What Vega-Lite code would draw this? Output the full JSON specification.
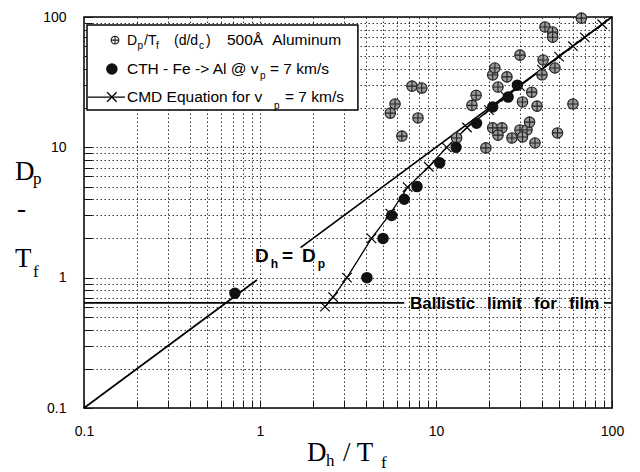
{
  "$schema": "https://vega.github.io/schema/vega-lite/v6.json",
  "width": 528,
  "height": 391,
  "autosize": "none",
  "padding": {"left": 84, "top": 17, "right": 28, "bottom": 64},
  "background": "white",
  "config": {
    "view": {"stroke": "black", "strokeWidth": 1.5},
    "axis": {
      "labelFont": "Liberation Sans",
      "labelFontSize": 14,
      "labelColor": "black",
      "domain": false,
      "grid": true,
      "gridColor": "#333",
      "gridDash": [1.5, 2.5],
      "gridWidth": 1,
      "gridOpacity": 1,
      "tickColor": "#111",
      "tickSize": -8,
      "tickWidth": 1
    }
  },
  "datasets": {
    "exp": [
      {"x": 5.5, "y": 18.3}, {"x": 5.85, "y": 21.5}, {"x": 6.4, "y": 12.2}, {"x": 7.3, "y": 29.5},
      {"x": 8.3, "y": 28.5}, {"x": 7.9, "y": 16.8}, {"x": 13.1, "y": 11.8}, {"x": 16, "y": 21},
      {"x": 16.9, "y": 25.1}, {"x": 19.2, "y": 9.9}, {"x": 21, "y": 14.1}, {"x": 23.7, "y": 14.1},
      {"x": 22.5, "y": 12.4}, {"x": 27, "y": 11.8}, {"x": 30, "y": 13.6}, {"x": 32.9, "y": 13.6},
      {"x": 34, "y": 15.6}, {"x": 31, "y": 12}, {"x": 36.5, "y": 10.8}, {"x": 49, "y": 12.9},
      {"x": 60, "y": 21.5}, {"x": 37.5, "y": 20.7}, {"x": 31, "y": 22.3}, {"x": 35, "y": 26.5},
      {"x": 22.5, "y": 29}, {"x": 25.3, "y": 34.7}, {"x": 21, "y": 35.9}, {"x": 21.6, "y": 40.6},
      {"x": 30, "y": 51}, {"x": 41.6, "y": 83.8}, {"x": 46, "y": 76.7}, {"x": 46, "y": 70},
      {"x": 67, "y": 98}, {"x": 40.6, "y": 46.8}, {"x": 47.4, "y": 40.6}, {"x": 40, "y": 36}
    ],
    "cth": [
      {"x": 0.72, "y": 0.76}, {"x": 4.05, "y": 1.0}, {"x": 5, "y": 2}, {"x": 5.6, "y": 3},
      {"x": 6.6, "y": 4}, {"x": 7.8, "y": 5}, {"x": 10.5, "y": 7.6}, {"x": 13, "y": 10},
      {"x": 17, "y": 15.3}, {"x": 21, "y": 20.4}, {"x": 25.7, "y": 24.3}, {"x": 29, "y": 30}
    ],
    "cmd": [
      {"x": 2.34, "y": 0.6}, {"x": 2.6, "y": 0.71}, {"x": 3.12, "y": 1.0}, {"x": 4.3, "y": 2.0},
      {"x": 5.5, "y": 3.1}, {"x": 6.9, "y": 4.95}, {"x": 9.1, "y": 7.1}, {"x": 11.5, "y": 10},
      {"x": 15, "y": 14.2}, {"x": 20, "y": 19.3}, {"x": 25, "y": 24.4}, {"x": 30, "y": 29.5},
      {"x": 40, "y": 39.5}, {"x": 50, "y": 49.6}, {"x": 60, "y": 59.7}, {"x": 70, "y": 69.8},
      {"x": 88, "y": 88}
    ],
    "lines": [
      {"seg": "id1", "x": 0.1, "y": 0.1}, {"seg": "id1", "x": 0.96, "y": 0.96},
      {"seg": "id2", "x": 1.7, "y": 1.7}, {"seg": "id2", "x": 100, "y": 100},
      {"seg": "b1", "x": 0.1, "y": 0.64}, {"seg": "b1", "x": 6.6, "y": 0.64},
      {"seg": "b2", "x": 90, "y": 0.64}, {"seg": "b2", "x": 100, "y": 0.64}
    ],
    "legendBox": [{"x": 0.104, "x2": 3.6, "y": 19.3, "y2": 86.9}],
    "legendLine": [{"x": 0.1054, "y": 24.3}, {"x": 0.171, "y": 24.3}],
    "legendX": [{"x": 0.144, "y": 24.3}],
    "legendOpen": [{"x": 0.15, "y": 66.5}],
    "legendFilled": [{"x": 0.144, "y": 39.9}],
    "legendSmall": [
      {"x": 0.1754, "y": 60.9, "t": "D"},
      {"x": 0.2193, "y": 60.9, "t": "/T"},
      {"x": 0.3245, "y": 60.9, "t": "(d/d"},
      {"x": 0.493, "y": 60.9, "t": ")"}
    ],
    "legendMain": [
      {"x": 0.6494, "y": 60.9, "t": "500Å"},
      {"x": 1.172, "y": 60.9, "t": "Aluminum"},
      {"x": 0.1754, "y": 36.5, "t": "CTH -  Fe -> Al @ v"},
      {"x": 1.14, "y": 36.5, "t": "=  7  km/s"},
      {"x": 0.1754, "y": 22.3, "t": "CMD Equation for v"},
      {"x": 1.387, "y": 22.3, "t": "=  7  km/s"}
    ],
    "legendSub": [
      {"x": 0.2013, "y": 56.7, "t": "p"},
      {"x": 0.2565, "y": 56.7, "t": "f"},
      {"x": 0.45, "y": 56.7, "t": "c"},
      {"x": 1.0, "y": 33.6, "t": "p"},
      {"x": 1.2, "y": 19.6, "t": "p"}
    ],
    "boldMain": [
      {"x": 0.937, "y": 1.317, "t": "D"},
      {"x": 1.334, "y": 1.317, "t": "="},
      {"x": 1.733, "y": 1.317, "t": "D"}
    ],
    "boldSub": [
      {"x": 1.15, "y": 1.185, "t": "h"},
      {"x": 2.13, "y": 1.185, "t": "p"}
    ],
    "ballistic": [
      {"x": 7.11, "y": 0.574, "t": "Ballistic"},
      {"x": 19.5, "y": 0.574, "t": "limit"},
      {"x": 36.1, "y": 0.574, "t": "for"},
      {"x": 57.0, "y": 0.574, "t": "film"}
    ],
    "serifMain": [
      {"x": 0.0405, "y": 5.61, "t": "D"},
      {"x": 0.0416, "y": 2.92, "t": "-"},
      {"x": 0.0405, "y": 1.205, "t": "T"},
      {"x": 1.85, "y": 0.0395, "t": "D"},
      {"x": 2.96, "y": 0.0395, "t": "/ T"}
    ],
    "serifSub": [
      {"x": 0.0513, "y": 5.23, "t": "p"},
      {"x": 0.0513, "y": 1.01, "t": "f"},
      {"x": 2.37, "y": 0.0357, "t": "h"},
      {"x": 4.87, "y": 0.0347, "t": "f"}
    ]
  },
  "encoding": {
    "x": {
      "field": "x", "type": "quantitative", "title": null,
      "scale": {"type": "log", "domain": [0.1, 100], "nice": false},
      "axis": {
        "values": [0.1,0.2,0.3,0.4,0.5,0.6,0.7,0.8,0.9,1,2,3,4,5,6,7,8,9,10,20,30,40,50,60,70,80,90,100],
        "labelExpr": "indexof([0.1,1,10,100], datum.value) >= 0 ? format(datum.value, '~g') : ''",
        "labelPadding": 24,
        "labelFlush": false,
        "labelOverlap": false
      }
    },
    "y": {
      "field": "y", "type": "quantitative", "title": null,
      "scale": {"type": "log", "domain": [0.1, 100], "nice": false},
      "axis": {
        "values": [0.1,0.2,0.3,0.4,0.5,0.6,0.7,0.8,0.9,1,2,3,4,5,6,7,8,9,10,20,30,40,50,60,70,80,90,100],
        "labelExpr": "indexof([0.1,1,10,100], datum.value) >= 0 ? format(datum.value, '~g') : ''",
        "labelPadding": 26,
        "labelFlush": false,
        "labelOverlap": false
      }
    }
  },
  "layer": [
    {
      "data": {"name": "lines"},
      "mark": {"type": "line", "color": "black", "strokeWidth": 1.7},
      "encoding": {"detail": {"field": "seg"}}
    },
    {
      "data": {"name": "cmd"},
      "mark": {"type": "line", "color": "black", "strokeWidth": 1.3},
      "encoding": {}
    },
    {
      "data": {"name": "cmd"},
      "mark": {"type": "point", "shape": "M-1,-1L1,1M-1,1L1,-1", "filled": false, "stroke": "black", "strokeWidth": 1.2, "size": 90, "opacity": 1}
    },
    {
      "data": {"name": "exp"},
      "mark": {"type": "point", "shape": "M-1,0A1,1,0,1,1,1,0A1,1,0,1,1,-1,0ZM-1,0L1,0M0,-1L0,1", "filled": false, "fill": "#9a9a9a", "fillOpacity": 1, "stroke": "#222", "strokeWidth": 1.1, "size": 110, "opacity": 1}
    },
    {
      "data": {"name": "cth"},
      "mark": {"type": "point", "shape": "circle", "filled": true, "fill": "#111", "stroke": "#111", "size": 90, "opacity": 1}
    },
    {
      "data": {"name": "legendBox"},
      "mark": {"type": "rect", "fill": "white", "stroke": "black", "strokeWidth": 1.5},
      "encoding": {"x2": {"field": "x2"}, "y2": {"field": "y2"}}
    },
    {
      "data": {"name": "legendLine"},
      "mark": {"type": "line", "color": "black", "strokeWidth": 1.3},
      "encoding": {}
    },
    {
      "data": {"name": "legendX"},
      "mark": {"type": "point", "shape": "M-1,-1L1,1M-1,1L1,-1", "filled": false, "stroke": "black", "strokeWidth": 1.3, "size": 90, "opacity": 1}
    },
    {
      "data": {"name": "legendOpen"},
      "mark": {"type": "point", "shape": "M-1,0A1,1,0,1,1,1,0A1,1,0,1,1,-1,0ZM-1,0L1,0M0,-1L0,1", "filled": false, "fill": "white", "fillOpacity": 1, "stroke": "#222", "strokeWidth": 1.1, "size": 60, "opacity": 1}
    },
    {
      "data": {"name": "legendFilled"},
      "mark": {"type": "point", "shape": "circle", "filled": true, "fill": "#111", "stroke": "#111", "size": 90, "opacity": 1}
    },
    {
      "data": {"name": "legendSmall"},
      "mark": {"type": "text", "font": "Liberation Sans", "fontSize": 14, "align": "left", "baseline": "alphabetic", "color": "black"},
      "encoding": {"text": {"field": "t"}}
    },
    {
      "data": {"name": "legendMain"},
      "mark": {"type": "text", "font": "Liberation Sans", "fontSize": 15.5, "align": "left", "baseline": "alphabetic", "color": "black"},
      "encoding": {"text": {"field": "t"}}
    },
    {
      "data": {"name": "legendSub"},
      "mark": {"type": "text", "font": "Liberation Sans", "fontSize": 10, "align": "left", "baseline": "alphabetic", "color": "black"},
      "encoding": {"text": {"field": "t"}}
    },
    {
      "data": {"name": "boldMain"},
      "mark": {"type": "text", "font": "Liberation Sans", "fontSize": 19, "fontWeight": "bold", "align": "left", "baseline": "alphabetic", "color": "black"},
      "encoding": {"text": {"field": "t"}}
    },
    {
      "data": {"name": "boldSub"},
      "mark": {"type": "text", "font": "Liberation Sans", "fontSize": 12, "fontWeight": "bold", "align": "left", "baseline": "alphabetic", "color": "black"},
      "encoding": {"text": {"field": "t"}}
    },
    {
      "data": {"name": "ballistic"},
      "mark": {"type": "text", "font": "Liberation Sans", "fontSize": 17, "fontWeight": "bold", "align": "left", "baseline": "alphabetic", "color": "black"},
      "encoding": {"text": {"field": "t"}}
    },
    {
      "data": {"name": "serifMain"},
      "mark": {"type": "text", "font": "Liberation Serif", "fontSize": 27, "align": "left", "baseline": "alphabetic", "color": "black"},
      "encoding": {"text": {"field": "t"}}
    },
    {
      "data": {"name": "serifSub"},
      "mark": {"type": "text", "font": "Liberation Serif", "fontSize": 17, "align": "left", "baseline": "alphabetic", "color": "black"},
      "encoding": {"text": {"field": "t"}}
    }
  ]
}
